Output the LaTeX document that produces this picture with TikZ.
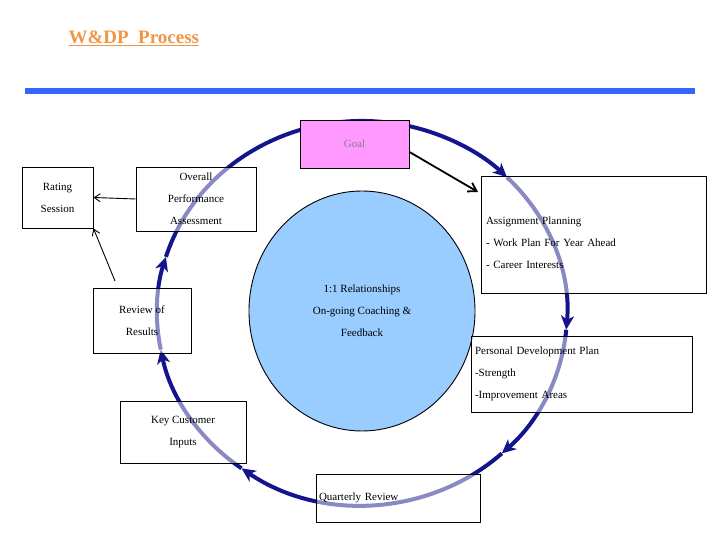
\documentclass[tikz,border=0pt]{standalone}
\usepackage{fontspec}
\setmainfont{Liberation Serif}
\usetikzlibrary{arrows.meta,shapes.geometric}
\definecolor{ringblue}{RGB}{20,20,140}
\definecolor{barblue}{RGB}{51,102,255}
\definecolor{goalpink}{RGB}{255,153,255}
\definecolor{hubblue}{RGB}{153,204,255}
\definecolor{titleorange}{RGB}{240,150,70}
\tikzset{
  box/.style={draw, line width=0.9pt, fill=white, fill opacity=0.5, text opacity=1,
    inner sep=0pt, font=\fontsize{11}{22}\selectfont},
  ring/.style={ringblue, line width=4pt, -{Stealth[length=14pt,width=13pt,inset=4pt]}},
  link/.style={line width=0.9pt, -{Straight Barb[length=6pt,width=8pt]}}
}
\begin{document}
\begin{tikzpicture}[x=1pt,y=1pt]
\useasboundingbox (0,0) rectangle (720,540);
\node[font=\fontsize{19}{19}\bfseries\selectfont, text=titleorange, anchor=west] (title) at (65,502) {\underline{W\&DP\ \ Process}};
\fill[barblue] (25,446) rectangle (695,452);
% hub
\node[draw, line width=0.9pt, fill=hubblue, ellipse, minimum width=226, minimum height=240, inner sep=0pt, font=\fontsize{11}{22}\selectfont, align=center] (hub) at (362,229) {1:1 Relationships\\On-going Coaching \&\\Feedback};
% ring, clockwise
\coordinate (c) at (362,227);
\foreach \a/\b in {163/45, 45/-5, -5/-47, -47/-126, -126/-169, 191/163}
  \draw[ring] ([shift={(\a:205 and 192)}]c) arc[start angle=\a, end angle=\b, x radius=205pt, y radius=192pt];
% boxes
\node[box, fill=goalpink, fill opacity=1, text=gray, minimum width=109, minimum height=48] (goal) at (354.5,396) {Goal};
\node[box, minimum width=71, minimum height=61, align=center] (rating) at (57.5,342.5) {Rating\\Session};
\node[box, minimum width=120, minimum height=64, align=center] (overall) at (196,341) {Overall\\Performance\\Assessment};
\node[box, minimum width=225, minimum height=117] (assign) at (593.5,305.5) {};
\node[font=\fontsize{11}{22}\selectfont, align=left, text width=215, inner sep=0pt] (assigntext) at ([yshift=-8]assign) {Assignment Planning\\- Work Plan For Year Ahead\\- Career Interests};
\node[box, minimum width=98, minimum height=65, align=center] (review) at (142,219.5) {Review of\\Results};
\node[box, minimum width=221, minimum height=76, align=left, text width=213] (pdp) at (581.5,166) {Personal Development Plan\\-Strength\\-Improvement Areas\\[6pt]};
\node[box, minimum width=126, minimum height=62, align=center] (key) at (183,108) {Key Customer\\Inputs};
\node[box, minimum width=164, minimum height=48, align=left, text width=158] (quarter) at (398,42) {Quarterly Review\\[6pt]};
% links
\draw[line width=1.8pt, -{Straight Barb[length=8pt,width=10pt]}] (goal.east) ++(0,-8) -- (478,348);
\draw[link] (overall.west) -- (rating.east);
\draw[link] (115,259) -- (rating.south east);
\end{tikzpicture}
\end{document}
